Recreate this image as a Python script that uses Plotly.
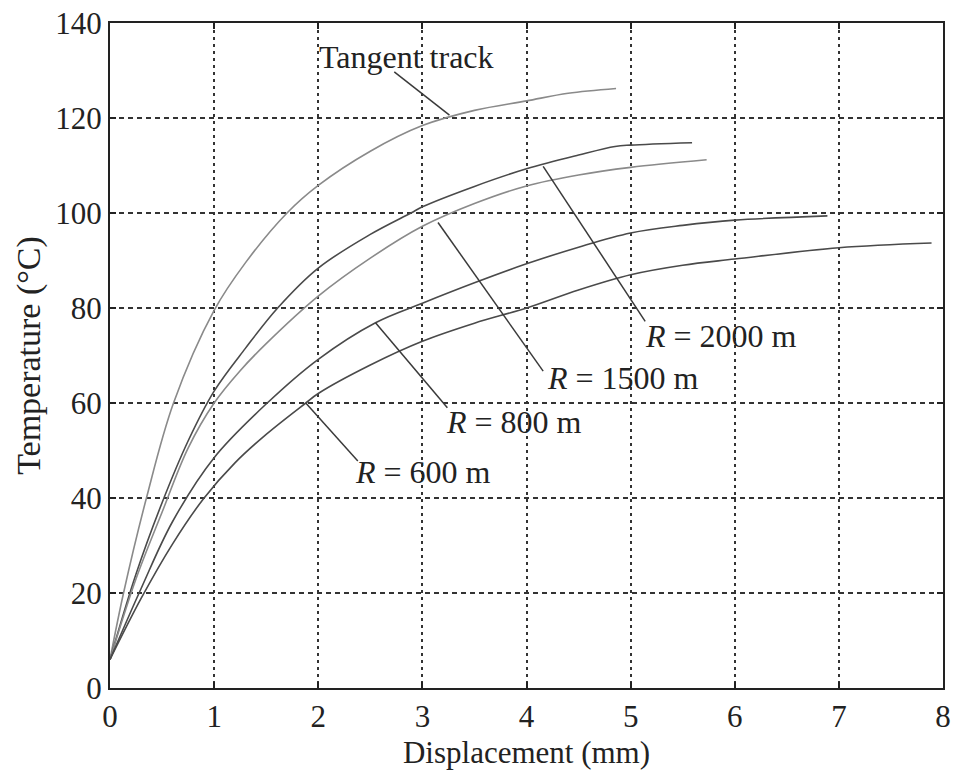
import plotly.graph_objects as go

# Temperature rise versus rail displacement for different curve radii
tangent_x = [0, 0.13, 0.35, 0.61, 1.0, 1.3, 1.7, 2.0, 2.5, 3.0, 3.5, 4.0, 4.4, 4.86]
tangent_y = [6, 20, 40, 60, 79.5, 89.5, 100, 105.8, 113, 118.4, 121.6, 123.6, 125.2, 126.2]

r2000_x = [0, 0.25, 0.5, 0.75, 1.0, 1.3, 1.61, 2.0, 2.5, 2.89, 3.0, 3.5, 4.0, 4.5, 4.85, 5.0, 5.59]
r2000_y = [6, 24, 39, 52, 62.5, 71.5, 80, 88.4, 95.5, 100, 101.3, 105.6, 109.3, 112.2, 114, 114.3, 114.8]

r1500_x = [0, 0.25, 0.5, 0.75, 1.0, 1.25, 1.5, 2.0, 2.5, 3.0, 3.5, 4.0, 4.5, 5.0, 5.73]
r1500_y = [6, 23, 37, 50.5, 60, 66.8, 72.5, 82.5, 90.5, 97.2, 102.0, 105.7, 108, 109.6, 111.2]

r800_x = [0, 0.3, 0.6, 1.0, 1.51, 2.0, 2.55, 3.0, 3.5, 4.0, 4.5, 5.0, 5.5, 6.0, 6.89]
r800_y = [6, 21, 35, 48.5, 60, 69.2, 76.9, 81, 85.3, 89.3, 92.8, 95.8, 97.4, 98.5, 99.4]

r600_x = [0, 0.3, 0.6, 0.9, 1.2, 1.5, 1.88, 2.0, 2.5, 3.0, 3.5, 4.0, 4.5, 5.0, 5.5, 6.0, 7.0, 7.89]
r600_y = [6, 18.9, 30.3, 39.9, 47.4, 53.4, 60.0, 62, 68, 73, 76.8, 80, 83.8, 87, 89, 90.3, 92.7, 93.7]

series = [
    ("Tangent track", tangent_x, tangent_y, "#8a8a8a"),
    ("R = 2000 m", r2000_x, r2000_y, "#4a4a4a"),
    ("R = 1500 m", r1500_x, r1500_y, "#8a8a8a"),
    ("R = 800 m", r800_x, r800_y, "#4a4a4a"),
    ("R = 600 m", r600_x, r600_y, "#4a4a4a"),
]

# Callout texts, text anchor points and leader lines (start on curve, end at text)
label_texts = ["Tangent track", "<i>R</i> = 2000 m", "<i>R</i> = 1500 m",
               "<i>R</i> = 800 m", "<i>R</i> = 600 m"]
label_x = [2.85, 5.12, 4.18, 3.21, 2.33]
label_y = [132.8, 74.1, 65.3, 55.9, 45.4]
label_anchor = ["center", "left", "left", "left", "left"]
leader_x0 = [3.26, 4.16, 3.15, 2.55, 1.88]
leader_y0 = [120.6, 109.8, 98.0, 76.9, 60.0]
leader_x1 = [2.73, 5.14, 4.16, 3.24, 2.38]
leader_y1 = [129.7, 77.2, 66.7, 59.0, 47.8]

x_ticks = [0, 1, 2, 3, 4, 5, 6, 7, 8]
y_ticks = [0, 20, 40, 60, 80, 100, 120, 140]

FONT = "Liberation Serif, Times New Roman, serif"

fig = go.Figure()
for name, xs, ys, col in series:
    fig.add_trace(go.Scatter(
        x=xs, y=ys, mode="lines", name=name,
        line=dict(color=col, width=1.6, shape="spline", smoothing=1.0),
        showlegend=False, hoverinfo="skip",
    ))

for x0, y0, x1, y1 in zip(leader_x0, leader_y0, leader_x1, leader_y1):
    fig.add_trace(go.Scatter(
        x=[x0, x1], y=[y0, y1], mode="lines",
        line=dict(color="#3a3a3a", width=1.5),
        showlegend=False, hoverinfo="skip",
    ))

for txt, ax_, ay_, anc in zip(label_texts, label_x, label_y, label_anchor):
    fig.add_annotation(
        x=ax_, y=ay_, text=txt, showarrow=False, xanchor=anc, yanchor="middle",
        font=dict(family=FONT, size=32, color="#222"),
    )

axis_common = dict(
    showline=True, linecolor="#222", linewidth=2, mirror="ticks",
    ticks="inside", ticklen=6, tickwidth=1.5, tickcolor="#222",
    showgrid=True, gridcolor="#333", gridwidth=1.5,
    zeroline=False,
    tickfont=dict(family=FONT, size=31, color="#222"),
)

fig.update_xaxes(
    range=[0, 8], tickvals=x_ticks, griddash="3px,4px",
    title=dict(text="Displacement (mm)", font=dict(family=FONT, size=31, color="#222"), standoff=8),
    **axis_common,
)
fig.update_yaxes(
    range=[0, 140], tickvals=y_ticks, griddash="5px,4px",
    title=dict(text="Temperature (°C)", font=dict(family=FONT, size=34, color="#222"), standoff=4),
    **axis_common,
)

fig.update_layout(
    width=957, height=771,
    margin=dict(l=110, r=6, t=21, b=83),
    paper_bgcolor="white", plot_bgcolor="white",
)

fig.write_html("out.html")
